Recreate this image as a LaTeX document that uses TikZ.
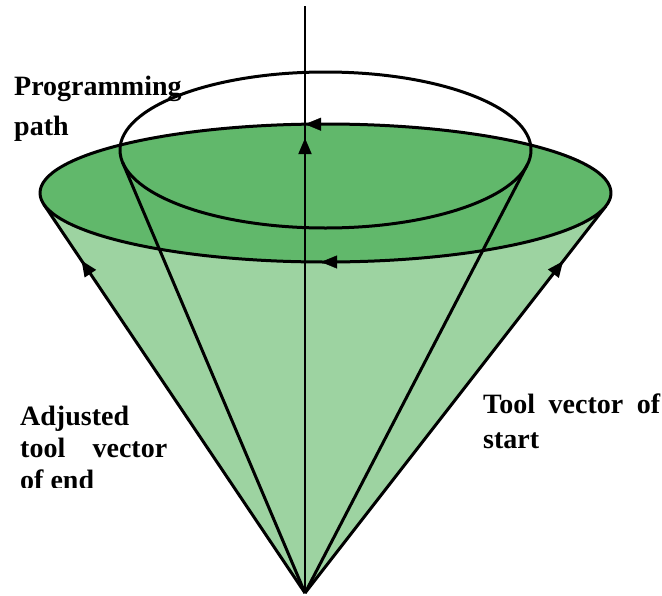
\documentclass[tikz,border=0pt]{standalone}
\usepackage{fontspec}
\setmainfont{Liberation Serif}
\usetikzlibrary{arrows.meta,decorations.markings}
\definecolor{coneside}{RGB}{157,211,161}
\definecolor{conetop}{RGB}{97,184,107}
\begin{document}
\begin{tikzpicture}[x=1pt,y=-1pt,
  outline/.style={line width=3pt, line join=round},
  tiphead/.style={-{Triangle[length=16pt,width=13pt]}},
  marktip/.style={postaction={decorate},
    decoration={markings, mark=at position #1 with {\arrow{Triangle[length=16pt,width=13pt]}}}},
  txt/.style={anchor=base west, inner sep=0pt, font=\fontsize{28}{32}\selectfont\bfseries}]
\useasboundingbox (0,0) rectangle (662,595);
% cone apex and tangent points on the rim
\coordinate (apex) at (305,593);
\coordinate (L) at (43.8,204.4);
\coordinate (R) at (605.9,206.1);
\coordinate (iL) at (122.6,162.4);
\coordinate (iR) at (527.1,165.1);
\coordinate (axtop) at (305,6);
% cone body
\fill[coneside] (apex) -- (L) -- (R) -- cycle;
\draw[outline, marktip=0.856] (apex) -- (L);
\draw[outline, marktip=0.858] (apex) -- (R);
% rim of the cone
\filldraw[outline, fill=conetop] (325.5,193) ellipse [x radius=285.5pt, y radius=69pt];
\draw[tiphead] (325,124.2) -- (305,124.2);
\draw[tiphead] (342,262) -- (321,262);
% programming path ellipse and its generating lines
\draw[outline] (325.5,150) ellipse [x radius=205.5pt, y radius=78pt];
\draw[outline] (apex) -- (iL);
\draw[outline] (apex) -- (iR);
% axis
\draw[line width=2pt, marktip=0.775] (apex) -- (axtop);
% labels
\node[txt] (prog) at (14,95) {Programming};
\node[txt] (path) at (14,135) {path};
\node[txt] (adj) at (20,425) {Adjusted};
\node[txt] (tv) at (20,457) {\makebox[147pt][s]{tool vector}};
\begin{scope}
  \clip (0,0) rectangle (300,487);
  \node[txt] (oe) at (20,489) {of end};
\end{scope}
\node[txt] (tvs) at (483,413) {\makebox[177pt][s]{Tool vector of}};
\node[txt] (st) at (483,448) {start};
\end{tikzpicture}
\end{document}
